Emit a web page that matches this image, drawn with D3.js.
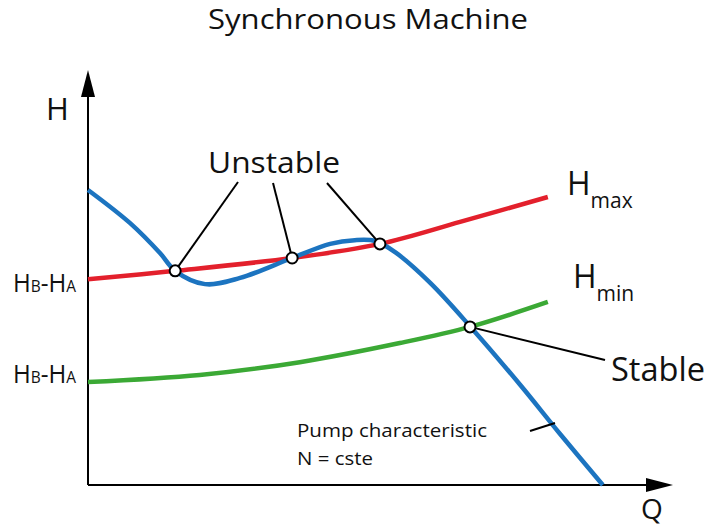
<!DOCTYPE html>
<html>
<head>
<meta charset="utf-8">
<script src="https://cdn.jsdelivr.net/npm/d3@7"></script>
<style>
  body { margin: 0; background: #fff; }
  text { font-family: "Open Sans", "Noto Sans", sans-serif; fill: #111; }
</style>
</head>
<body>
<div id="chart"></div>
<script>
// schematic values, Q and H in arbitrary units (0..100)
var pumpQ = [0, 7.2, 12.3, 14.9, 20.0, 26.0, 34.9, 41.4, 45.6, 49.1, 52.5, 58.5, 65.4, 73.9, 80.7, 88.0]
var pumpH = [71.1, 63.1, 55.9, 51.6, 48.4, 49.9, 54.7, 58.1, 59.0, 58.8, 56.1, 48.7, 38.1, 24.1, 12.3, 0]
var hmaxQ = [0, 14.9, 34.9, 49.9, 63.6, 78.6]
var hmaxH = [49.6, 51.6, 54.7, 58.1, 63.4, 69.4]
var hminQ = [0, 19.1, 36.2, 53.3, 65.3, 78.6]
var hminH = [24.8, 26.5, 29.6, 34.2, 38.1, 44.1]
var unstableQ = [14.9, 34.9, 49.9]
var unstableH = [51.6, 54.7, 58.1]
var stableQ = [65.3]
var stableH = [38.1]

var width = 710,
    height = 529
var margin = { top: 70, right: 37, bottom: 44, left: 88 }

var svg = d3.select('#chart').append('svg')
    .attr('width', width).attr('height', height)

var x = d3.scaleLinear().domain([0, 100]).range([margin.left, width - margin.right])
var y = d3.scaleLinear().domain([0, 100]).range([height - margin.bottom, margin.top])

function zip(qs, hs) {
    return qs.map(function(q, i){ return [q, hs[i]]; })
}

var line = d3.line()
    .x(function(d){ return x(d[0]); })
    .y(function(d){ return y(d[1]); })
    .curve(d3.curveCatmullRom.alpha(0.5))

// plain text helper, stretched to the reference width
function label(xx, yy, size, str, len) {
    var t = svg.append('text').attr('x', xx).attr('y', yy)
        .style('font-size', size + 'px').text(str)
    if (len) t.attr('textLength', len).attr('lengthAdjust', 'spacingAndGlyphs')
    return t
}

label(208, 29, 27.5, 'Synchronous Machine', 320)

// axes with arrow heads
var x0 = x(0), y0 = y(0)
svg.append('line')
    .attr('x1', x0).attr('y1', y0).attr('x2', x0).attr('y2', y(100) + 20)
    .attr('stroke', '#000').attr('stroke-width', 2)
svg.append('path')
    .attr('d', 'M' + x0 + ',' + y(100) + 'l-7,27l14,0z')
    .attr('fill', '#000')
svg.append('line')
    .attr('x1', x0).attr('y1', y0).attr('x2', x(100) - 20).attr('y2', y0)
    .attr('stroke', '#000').attr('stroke-width', 2)
svg.append('path')
    .attr('d', 'M' + x(100) + ',' + y0 + 'l-27,-7l0,14z')
    .attr('fill', '#000')

label(46, 120, 31, 'H')
label(641, 519, 28, 'Q')

// curves
var curves = [
    { pts: zip(hmaxQ, hmaxH), color: '#e3202c' },
    { pts: zip(hminQ, hminH), color: '#3ba935' },
    { pts: zip(pumpQ, pumpH), color: '#1c74c0' }
]
svg.selectAll('path.curve')
    .data(curves)
    .enter()
    .append('path')
    .attr('class', 'curve')
    .attr('d', function(d){ return line(d.pts); })
    .attr('fill', 'none')
    .attr('stroke', function(d){ return d.color; })
    .attr('stroke-width', 4.5)

// HB-HA labels on the y axis
function hbha(yy) {
    var t = svg.append('text').attr('x', 13).attr('y', yy).style('font-size', '25px')
        .attr('textLength', 63).attr('lengthAdjust', 'spacingAndGlyphs')
    t.append('tspan').text('H')
    t.append('tspan').style('font-size', '16px').text('B')
    t.append('tspan').text('-H')
    t.append('tspan').style('font-size', '16px').text('A')
}
hbha(292)
hbha(383)

// Hmax / Hmin labels
function hsub(xx, yy, sub) {
    var t = svg.append('text').attr('x', xx).attr('y', yy).style('font-size', '32px')
    t.append('tspan').text('H')
    t.append('tspan').attr('dy', 13).style('font-size', '21px').text(sub)
}
hsub(567, 195, 'max')
hsub(573, 288, 'min')

// leader lines
var unstable = zip(unstableQ, unstableH)
var starts = [[238, 182], [273, 183], [327, 183]]
svg.selectAll('line.leader')
    .data(unstable)
    .enter()
    .append('line')
    .attr('x1', function(d, i){ return starts[i][0]; })
    .attr('y1', function(d, i){ return starts[i][1]; })
    .attr('x2', function(d){ return x(d[0]); })
    .attr('y2', function(d){ return y(d[1]); })
    .attr('stroke', '#000').attr('stroke-width', 2)

var stable = zip(stableQ, stableH)
svg.append('line')
    .attr('x1', x(stable[0][0])).attr('y1', y(stable[0][1]))
    .attr('x2', 605).attr('y2', 360)
    .attr('stroke', '#000').attr('stroke-width', 2)

label(208, 173, 30, 'Unstable', 132)
label(611, 381, 33, 'Stable', 94)

// intersection markers
svg.selectAll('circle.pt')
    .data(unstable.concat(stable))
    .enter()
    .append('circle')
    .attr('class', 'pt')
    .attr('cx', function(d){ return x(d[0]); })
    .attr('cy', function(d){ return y(d[1]); })
    .attr('r', 5.5)
    .attr('fill', '#fff')
    .attr('stroke', '#000')
    .attr('stroke-width', 2)

// pump characteristic label
svg.append('line')
    .attr('x1', 530).attr('y1', 431).attr('x2', 555).attr('y2', 423)
    .attr('stroke', '#000').attr('stroke-width', 2)
label(297, 437, 18.5, 'Pump characteristic', 190)
label(297, 465, 18.5, 'N = cste', 76)
</script>
</body>
</html>
